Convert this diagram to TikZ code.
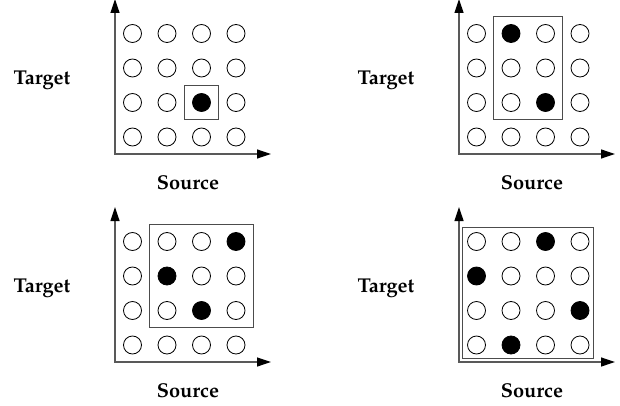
\documentclass[tikz,border=0pt]{standalone}
\usepackage[T1]{fontenc}
\usepackage{mathpazo}
\usetikzlibrary{positioning, fit, arrows.meta}
\tikzstyle{dot} = [circle, draw=black, line width=0.4pt, minimum size=9pt, inner sep=0pt]
\tikzstyle{hit} = [fill=black]
\tikzstyle{window} = [rectangle, draw=black!70, line width=0.5pt, inner sep=4pt]
\tikzstyle{axis} = [line width=0.6pt, draw=black!65, <->, >={Triangle[length=7pt,width=4.5pt,color=black]}]
\tikzstyle{every node}=[font=\normalsize\bfseries]

\begin{document}
\begin{tikzpicture}[x=0.5pt, y=-0.5pt,
		a33/.style={hit},
		b21/.style={hit}, b33/.style={hit},
		c41/.style={hit}, c22/.style={hit}, c33/.style={hit},
		d31/.style={hit}, d12/.style={hit}, d43/.style={hit}, d24/.style={hit}]
		\useasboundingbox (0,0) rectangle (620,406);
		
		%四个坐标面板
		\foreach \p/\ox/\oy in {a/115/154, b/459/154, c/115/362, d/459/362} {
			\coordinate (\p-o) at (\ox,\oy);
			\coordinate (\p-ytip) at (\ox,\oy-155);
			\coordinate (\p-xtip) at (\ox+156,\oy);
			\draw [axis] (\p-ytip) -- (\p-o) -- (\p-xtip);
			\foreach \c in {1,...,4}
				\foreach \r in {1,...,4}
					\node (\p-\c-\r) [dot, \p\c\r/.try] at ({\ox+17.5+(\c-1)*34.5}, {\oy-17-(4-\r)*34.5}) {};
			\node (\p-target) at (\ox-73,\oy-74) {Target};
			\node (\p-source) at (\ox+73,\oy+29) {Source};
		}
		
		%窗口
		\node (win-a) [window, fit=(a-3-3)] {};
		\node (win-b) [window, fit=(b-2-1) (b-3-3)] {};
		\node (win-c) [window, fit=(c-2-1) (c-4-3)] {};
		\node (win-d) [window, fit=(d-1-1) (d-4-4), inner sep=2.25pt] {};
		
	\end{tikzpicture}
\end{document}
